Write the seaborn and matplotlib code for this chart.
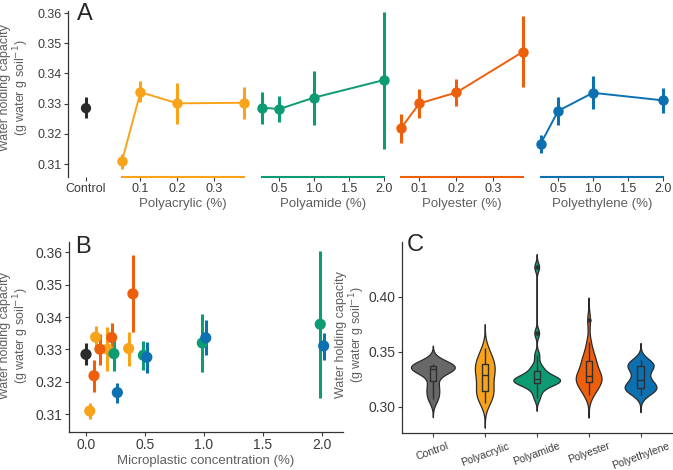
import numpy as np
import pandas as pd
import seaborn as sns
import matplotlib.pyplot as plt

sns.set_style('ticks')
plt.rcParams['font.family'] = ['Liberation Sans', 'DejaVu Sans']

# mean water holding capacity with lower/upper error limits (panels A, B)
control_mean = 0.3285
control_lo = 0.3252
control_hi = 0.3321

acryl_conc = [0.05, 0.1, 0.2, 0.38]
acryl_mean = [0.3110, 0.3338, 0.3301, 0.3303]
acryl_lo = [0.3085, 0.3304, 0.3233, 0.3249]
acryl_hi = [0.3134, 0.3374, 0.3370, 0.3355]

amide_conc = [0.25, 0.5, 1.0, 2.0]
amide_mean = [0.3287, 0.3282, 0.3320, 0.3378]
amide_lo = [0.3232, 0.3238, 0.3229, 0.3151]
amide_hi = [0.3340, 0.3325, 0.3409, 0.3605]

ester_conc = [0.05, 0.1, 0.2, 0.38]
ester_mean = [0.3219, 0.3301, 0.3337, 0.3472]
ester_lo = [0.3170, 0.3253, 0.3293, 0.3355]
ester_hi = [0.3266, 0.3348, 0.3382, 0.3591]

ethyl_conc = [0.25, 0.5, 1.0, 2.0]
ethyl_mean = [0.3167, 0.3276, 0.3336, 0.3311]
ethyl_lo = [0.3136, 0.3228, 0.3282, 0.3269]
ethyl_hi = [0.3197, 0.3322, 0.3391, 0.3352]

# raw replicate values per treatment (panel C)
control_raw = [0.307, 0.314, 0.321, 0.332, 0.334, 0.335, 0.336, 0.337, 0.338, 0.339]
acryl_raw = [0.303, 0.306, 0.309, 0.311, 0.313, 0.315, 0.318, 0.321, 0.324, 0.327,
             0.330, 0.332, 0.334, 0.336, 0.338, 0.340, 0.342, 0.345, 0.349, 0.353]
amide_raw = [0.308, 0.314, 0.318, 0.3205, 0.3215, 0.322, 0.323, 0.3235, 0.324, 0.325,
             0.3255, 0.326, 0.327, 0.3285, 0.332, 0.334, 0.338, 0.347, 0.367, 0.427]
ester_raw = [0.3106, 0.314, 0.317, 0.319, 0.321, 0.3235, 0.325, 0.326, 0.327, 0.3275,
             0.3283, 0.331, 0.335, 0.338, 0.341, 0.3425, 0.346, 0.351, 0.359, 0.3788]
ethyl_raw = [0.3106, 0.314, 0.3155, 0.316, 0.3165, 0.317, 0.3175, 0.319, 0.321, 0.323,
             0.3256, 0.328, 0.332, 0.3355, 0.337, 0.3375, 0.338, 0.339, 0.340, 0.3425]

groups = ['Control', 'Polyacrylic', 'Polyamide', 'Polyester', 'Polyethylene']
acryl_ticks = [0.1, 0.2, 0.3]
amide_ticks = [0.5, 1.0, 1.5, 2.0]

palette = {'Control': '#2b2b2b', 'Polyacrylic': '#f9a31b', 'Polyamide': '#0c9b73',
           'Polyester': '#ee5f0c', 'Polyethylene': '#0d70b1'}
violin_palette = dict(palette, Control='#686868')
dodge = {'Polyacrylic': -0.018, 'Polyester': 0.018, 'Polyamide': -0.013, 'Polyethylene': 0.016}

TICK_C = '#3b3b3b'
TITLE_C = '#5f5f5f'
YLABEL = 'Water holding capacity\n(g water g soil$^{-1}$)'

means = pd.concat([
    pd.DataFrame({'treatment': name, 'conc': c, 'mean': m, 'lo': lo, 'hi': hi})
    for name, c, m, lo, hi in [
        ('Polyacrylic', acryl_conc, acryl_mean, acryl_lo, acryl_hi),
        ('Polyamide', amide_conc, amide_mean, amide_lo, amide_hi),
        ('Polyester', ester_conc, ester_mean, ester_lo, ester_hi),
        ('Polyethylene', ethyl_conc, ethyl_mean, ethyl_lo, ethyl_hi),
    ]
], ignore_index=True)

raw = pd.concat([
    pd.DataFrame({'group': g, 'value': v})
    for g, v in zip(groups, [control_raw, acryl_raw, amide_raw, ester_raw, ethyl_raw])
], ignore_index=True)

W, H = 673, 470
fig = plt.figure(figsize=(W / 100, H / 100), dpi=100)


def px_axes(left, top, width, height):
    return fig.add_axes([left / W, 1 - (top + height) / H, width / W, height / H])


def nrd0(kde):
    # R's default bandwidth, as ggplot's violins use
    x = kde.dataset.ravel()
    sd = x.std(ddof=1)
    q75, q25 = np.percentile(x, [75, 25])
    h = 0.9 * min(sd, (q75 - q25) / 1.34) * len(x) ** -0.2
    return h / sd


def style_ticks(ax, size):
    ax.tick_params(colors=TICK_C, labelcolor=TICK_C, labelsize=size, length=3, width=0.8, pad=1.5)


def add_ylabel(x, y):
    fig.text(x / W, 1 - y / H, YLABEL, rotation=90, ha='center', va='center',
             color=TITLE_C, fontsize=9, multialignment='center', linespacing=1.0)


# ---- Panel A ----
ylim_a = (0.3058, 0.3607)
yticks_ab = [0.31, 0.32, 0.33, 0.34, 0.35, 0.36]

ax0 = px_axes(68, 11, 36, 165.7)
ax0.vlines(['Control'], [control_lo], [control_hi], color=palette['Control'], lw=2.2, zorder=2)
sns.scatterplot(x=['Control'], y=[control_mean], color=palette['Control'], s=55,
                edgecolor='none', ax=ax0, zorder=3)
ax0.set_xlim(-0.6, 0.6)
ax0.set_ylim(ylim_a)
ax0.set_yticks(yticks_ab)
ax0.set_yticklabels([f'{v:.2f}' for v in yticks_ab])
ax0.spines[['top', 'right', 'bottom']].set_visible(False)
ax0.spines['left'].set_color('#333333')
ax0.spines['left'].set_linewidth(0.9)
style_ticks(ax0, 9)
ax0.set_xlabel('')
ax0.set_ylabel('')

facet_left = [115.9, 255.6, 394.9, 534.6]
facet_ticks = [acryl_ticks, amide_ticks, acryl_ticks, amide_ticks]
for left, name, ticks in zip(facet_left, groups[1:], facet_ticks):
    ax = px_axes(left, 11, 134.2, 165.7)
    d = means[means['treatment'] == name]
    col = palette[name]
    ax.vlines(d['conc'], d['lo'], d['hi'], color=col, lw=2.2, zorder=2)
    sns.lineplot(data=d, x='conc', y='mean', color=col, lw=1.4, marker='o',
                 markersize=7.5, markeredgewidth=0, ax=ax, zorder=3)
    lo, hi = d['conc'].min(), d['conc'].max()
    pad = 0.05 * (hi - lo)
    ax.set_xlim(lo - pad, hi + pad)
    ax.set_ylim(ylim_a)
    ax.set_yticks([])
    ax.spines[['top', 'right', 'left']].set_visible(False)
    ax.spines['bottom'].set_color(col)
    ax.spines['bottom'].set_linewidth(1.5)
    ax.spines['bottom'].set_bounds(lo, hi)
    ax.set_xticks(ticks)
    ax.set_xticklabels([f'{t:.1f}' for t in ticks])
    style_ticks(ax, 9)
    ax.set_xlabel(f'{name} (%)', color=TITLE_C, fontsize=9.5, labelpad=2)
    ax.set_ylabel('')

fig.text(77 / W, 1 - 3 / H, 'A', fontsize=17, va='top', ha='left')
add_ylabel(15, 88)

# ---- Panel B ----
axb = px_axes(69, 241.7, 274, 190)
dfb = means.copy()
dfb['x'] = dfb['conc'] + dfb['treatment'].map(dodge)
ctrl = pd.DataFrame({'treatment': ['Control'], 'conc': [0.0], 'mean': [control_mean],
                     'lo': [control_lo], 'hi': [control_hi], 'x': [0.0]})
dfb = pd.concat([ctrl, dfb], ignore_index=True)
axb.vlines(dfb['x'], dfb['lo'], dfb['hi'], colors=dfb['treatment'].map(palette), lw=2.2, zorder=2)
sns.scatterplot(data=dfb, x='x', y='mean', hue='treatment', palette=palette, s=65,
                edgecolor='none', legend=False, ax=axb, zorder=3)
axb.set_xlim(-0.144, 2.18)
axb.set_ylim(0.3046, 0.3633)
axb.set_xticks([0.0, 0.5, 1.0, 1.5, 2.0])
axb.set_xticklabels(['0.0', '0.5', '1.0', '1.5', '2.0'])
axb.set_yticks(yticks_ab)
axb.set_yticklabels([f'{v:.2f}' for v in yticks_ab])
axb.spines[['top', 'right']].set_visible(False)
for s in ['left', 'bottom']:
    axb.spines[s].set_color('#333333')
    axb.spines[s].set_linewidth(0.9)
style_ticks(axb, 10)
axb.set_xlabel('Microplastic concentration (%)', color=TITLE_C, fontsize=9.5, labelpad=2)
axb.set_ylabel('')
fig.text(75 / W, 1 - 236 / H, 'B', fontsize=17, va='top', ha='left')
add_ylabel(15, 336)

# ---- Panel C ----
axc = px_axes(401.7, 241.7, 270, 191)
sns.violinplot(data=raw, x='group', y='value', hue='group', palette=violin_palette,
               order=groups, inner=None, cut=3, bw_method=nrd0, density_norm='area',
               common_norm=True, width=0.9, linewidth=0.9, linecolor='#2a2a2a',
               saturation=1, legend=False, ax=axc)
sns.boxplot(data=raw, x='group', y='value', order=groups, width=0.12, fill=False,
            color='#2f2f2f', linewidth=1.0, showcaps=False,
            flierprops=dict(marker='o', markersize=3.2, markerfacecolor='#2f2f2f',
                            markeredgecolor='none'), ax=axc)
axc.set_xlim(-0.6, 4.6)
axc.set_ylim(0.2764, 0.45)
axc.set_yticks([0.30, 0.35, 0.40])
axc.set_yticklabels(['0.30', '0.35', '0.40'])
axc.spines[['top', 'right']].set_visible(False)
for s in ['left', 'bottom']:
    axc.spines[s].set_color('#333333')
    axc.spines[s].set_linewidth(0.9)
style_ticks(axc, 10)
axc.tick_params(axis='x', labelsize=7.6, pad=3)
for lab in axc.get_xticklabels():
    lab.set_rotation(20)
    lab.set_ha('center')
axc.set_xlabel('')
axc.set_ylabel('')
fig.text(407 / W, 1 - 234 / H, 'C', fontsize=17, va='top', ha='left')
add_ylabel(351, 335)

fig.savefig('out.png', dpi=100)
